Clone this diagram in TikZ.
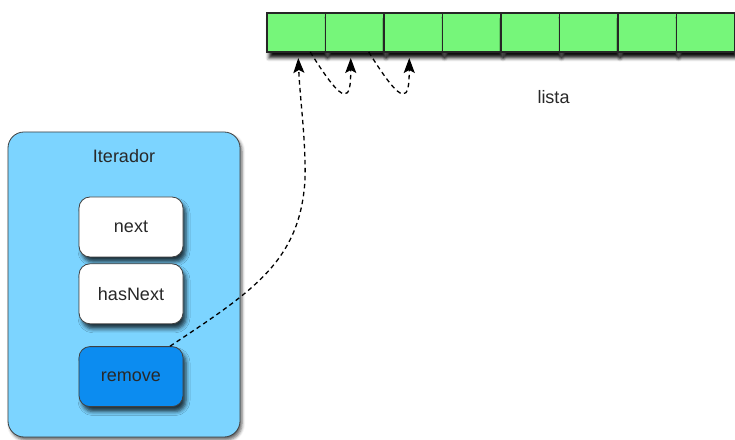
\documentclass[tikz,border=0pt]{standalone}
\usepackage{fontspec}
\setmainfont{Liberation Sans}
\usetikzlibrary{shadows.blur, arrows.meta, calc, positioning}
\definecolor{verdecelda}{RGB}{118,246,122}
\definecolor{azulclaro}{RGB}{124,212,255}
\definecolor{azulfuerte}{RGB}{12,140,240}
\definecolor{gristexto}{RGB}{40,40,40}

\begin{document}
\begin{tikzpicture}[x=1pt, y=1pt,
    texto/.style={text=gristexto, font=\fontsize{18}{20}\selectfont},
    celda/.style={draw=black!85, line width=1.3pt, fill=verdecelda, minimum width=58.5pt, minimum height=39pt, inner sep=0pt, outer sep=0pt,
        blur shadow={shadow xshift=2pt, shadow yshift=-6pt, shadow blur radius=3.5pt, shadow opacity=95}},
    contenedor/.style={draw=black!75, line width=0.8pt, fill=azulclaro, rounded corners=16pt, minimum width=232pt, minimum height=305pt,
        blur shadow={shadow xshift=2pt, shadow yshift=-3pt, shadow blur radius=3pt, shadow opacity=60}},
    metodo/.style={texto, draw=black!75, line width=0.8pt, fill=white, rounded corners=11pt, minimum width=104pt, minimum height=60pt, inner sep=0pt,
        blur shadow={shadow xshift=3pt, shadow yshift=-5pt, shadow blur radius=4pt, shadow opacity=75}},
    enlace/.style={dash pattern=on 4.5pt off 3.5pt, line width=1.3pt, -{Stealth[length=15pt, width=11pt, inset=3pt]}}]
    \useasboundingbox (0,0) rectangle (735,439);

    % Lista (array of cells)
    \node[celda] (c1) at (296.25,406.5) {};
    \foreach \i [remember=\i as \j (initially 1)] in {2,...,8}
        \node[celda, right=0pt of c\j] (c\i) {};
    \node[texto] (nombre) at ($(c5.south east)+(-6,-45)$) {lista};

    % Iterador and its methods
    \node[contenedor] (iter) at (124,154.5) {};
    \node[texto] (titulo) at ($(iter.north)+(0,-24)$) {Iterador};
    \node[metodo] (next) at (131,212) {next};
    \node[metodo, below=6pt of next] (hasnext) {hasNext};
    \node[metodo, fill=azulfuerte, below=22pt of hasnext] (remove) {remove};

    % Pointers
    \coordinate (inicio) at ($(remove.north)+(39,0)$);
    \coordinate (codo) at (305,259);
    \draw[enlace] (inicio) .. controls (255,149) and (300,179) .. (codo)
        .. controls (306,299) and (300,339) .. ($(c1.south)+(2,-6)$);
    \foreach \i/\j in {1/2, 2/3}
        \draw[enlace] ($(c\i.south)+(14,0)$) .. controls +(36,-58) and +(0,-42) .. ($(c\j.south)+(-4,-6)$);
\end{tikzpicture}
\end{document}
